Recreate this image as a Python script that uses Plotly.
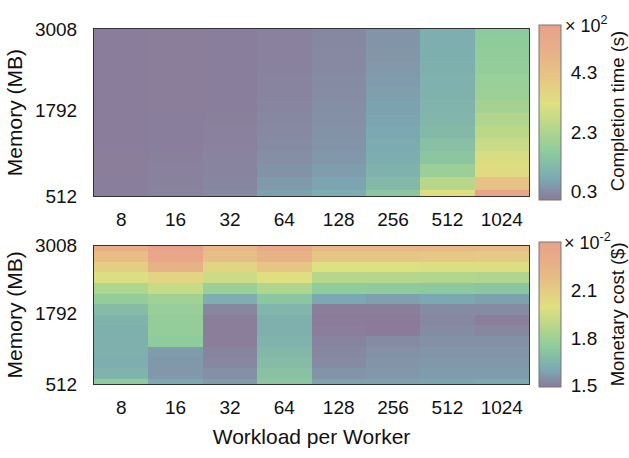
import plotly.graph_objects as go

workload = ["8", "16", "32", "64", "128", "256", "512", "1024"]
memory_mb = [512, 704, 896, 1088, 1280, 1472, 1664, 1856, 2048, 2240, 2432, 2624, 2816, 3008]

# Completion time (x 10^2 s); each list runs from 512 MB up to 3008 MB
time_8 = [0.08, 0.07, 0.06, 0.06, 0.05, 0.05, 0.05, 0.05, 0.05, 0.05, 0.05, 0.05, 0.05, 0.05]
time_16 = [0.14, 0.12, 0.1, 0.09, 0.08, 0.07, 0.07, 0.06, 0.06, 0.06, 0.06, 0.06, 0.06, 0.06]
time_32 = [0.22, 0.18, 0.15, 0.13, 0.11, 0.1, 0.09, 0.08, 0.08, 0.07, 0.07, 0.07, 0.07, 0.07]
time_64 = [0.6, 0.48, 0.38, 0.3, 0.25, 0.22, 0.2, 0.17, 0.15, 0.13, 0.12, 0.11, 0.1, 0.1]
time_128 = [0.78, 0.64, 0.52, 0.45, 0.4, 0.36, 0.33, 0.3, 0.27, 0.25, 0.23, 0.22, 0.21, 0.2]
time_256 = [1.45, 1.15, 0.95, 0.82, 0.75, 0.7, 0.65, 0.6, 0.55, 0.5, 0.46, 0.42, 0.4, 0.4]
time_512 = [3.2, 2.5, 1.9, 1.5, 1.3, 1.15, 1.05, 1.0, 0.95, 0.92, 0.9, 0.87, 0.85, 0.85]
time_1024 = [5.6, 4.2, 3.4, 3.1, 2.8, 2.55, 2.35, 2.1, 1.95, 1.85, 1.75, 1.7, 1.65, 1.6]

# Monetary cost (x 10^-2 $); each list runs from 512 MB up to 3008 MB
cost_8 = [1.74, 1.64, 1.62, 1.63, 1.63, 1.63, 1.64, 1.68, 1.76, 1.85, 1.98, 2.08, 2.18, 2.27]
cost_16 = [1.6, 1.56, 1.56, 1.57, 1.74, 1.76, 1.76, 1.77, 1.8, 1.92, 2.05, 2.25, 2.35, 2.38]
cost_32 = [1.57, 1.54, 1.52, 1.51, 1.5, 1.5, 1.5, 1.52, 1.62, 1.78, 1.93, 2.05, 2.17, 2.22]
cost_64 = [1.72, 1.7, 1.68, 1.66, 1.64, 1.63, 1.63, 1.65, 1.72, 1.85, 2.0, 2.12, 2.25, 2.32]
cost_128 = [1.58, 1.55, 1.53, 1.52, 1.51, 1.5, 1.49, 1.5, 1.6, 1.75, 1.87, 1.99, 2.12, 2.22]
cost_256 = [1.58, 1.56, 1.55, 1.54, 1.53, 1.49, 1.49, 1.5, 1.58, 1.74, 1.87, 1.99, 2.12, 2.22]
cost_512 = [1.59, 1.57, 1.56, 1.55, 1.54, 1.53, 1.52, 1.53, 1.6, 1.73, 1.86, 1.98, 2.11, 2.21]
cost_1024 = [1.6, 1.57, 1.56, 1.55, 1.54, 1.52, 1.5, 1.53, 1.58, 1.72, 1.85, 1.98, 2.1, 2.2]

time_ticks = [0.3, 2.3, 4.3]
cost_ticks = [1.5, 1.8, 2.1]
mem_ticks = [512, 1792, 3008]

time_cols = [time_8, time_16, time_32, time_64, time_128, time_256, time_512, time_1024]
cost_cols = [cost_8, cost_16, cost_32, cost_64, cost_128, cost_256, cost_512, cost_1024]
time_z = [list(r) for r in zip(*time_cols)]
cost_z = [list(r) for r in zip(*cost_cols)]

cscale = [[0.0, "#8b7a99"], [0.12, "#7ba9b3"], [0.28, "#8fcc9c"], [0.42, "#b7d78b"],
          [0.55, "#dfe080"], [0.7, "#e6c584"], [0.85, "#e8b087"], [1.0, "#e9a08a"]]

W, H = 629, 458
FONT = "Liberation Sans, Arial, Helvetica, sans-serif"
TXT = "#111"
x0, x1 = 94 / W, 529 / W
top_dom = [1 - 195 / H, 1 - 20 / H]
bot_dom = [1 - 392 / H, 1 - 247 / H]


def cbar(dom, length, ticks):
    return dict(x=539 / W, xanchor="left", y=sum(dom) / 2, yanchor="middle",
                lenmode="pixels", len=length, thickness=22, thicknessmode="pixels",
                outlinecolor="#777", outlinewidth=1, tickvals=ticks,
                ticktext=[f"{v:.1f}" for v in ticks],
                ticks="outside", ticklen=6, tickcolor="rgba(0,0,0,0)",
                tickfont=dict(size=19, color=TXT, family=FONT),
                xpad=0, ypad=0)


fig = go.Figure()
fig.add_trace(go.Heatmap(
    x=workload, y=memory_mb, z=time_z, colorscale=cscale, zmin=0.0, zmax=5.9,
    xaxis="x", yaxis="y", colorbar=cbar(top_dom, 175, time_ticks),
))
fig.add_trace(go.Heatmap(
    x=workload, y=memory_mb, z=cost_z, colorscale=cscale, zmin=1.49, zmax=2.40,
    xaxis="x2", yaxis="y2", colorbar=cbar(bot_dom, 145, cost_ticks),
))

axis_common = dict(showline=True, mirror=True, linecolor="#333", linewidth=1,
                   ticks="", showgrid=False, zeroline=False,
                   tickfont=dict(size=19, color=TXT, family=FONT))
yr = [512, 3008]
title_font = dict(size=21, family=FONT, color=TXT)
cb_title_font = dict(size=18.5, family=FONT, color=TXT)
fig.update_layout(
    width=W, height=H, margin=dict(l=0, r=0, t=0, b=0),
    paper_bgcolor="white", plot_bgcolor="white",
    font=dict(family=FONT, color=TXT),
    xaxis=dict(domain=[x0, x1], anchor="y", type="category", ticklabelstandoff=6, **axis_common),
    yaxis=dict(domain=top_dom, anchor="x", range=yr, tickvals=mem_ticks, ticklabelstandoff=12,
               title=dict(text="Memory (MB)", font=title_font, standoff=6),
               **axis_common),
    xaxis2=dict(domain=[x0, x1], anchor="y2", type="category", ticklabelstandoff=6,
                title=dict(text="Workload per Worker", font=title_font, standoff=12),
                **axis_common),
    yaxis2=dict(domain=bot_dom, anchor="x2", range=yr, tickvals=mem_ticks, ticklabelstandoff=12,
                title=dict(text="Memory (MB)", font=title_font, standoff=6),
                **axis_common),
    annotations=[
        dict(text="× 10<sup>2</sup>", x=563 / W, y=1 - 29 / H, xref="paper", yref="paper",
             xanchor="left", yanchor="bottom", showarrow=False,
             font=dict(size=18, family=FONT, color=TXT)),
        dict(text="× 10<sup>-2</sup>", x=562 / W, y=1 - 257 / H, xref="paper", yref="paper",
             xanchor="left", yanchor="bottom", showarrow=False,
             font=dict(size=18, family=FONT, color=TXT)),
        dict(text="Completion time (s)", x=617 / W, y=1 - 106 / H, xref="paper", yref="paper",
             xanchor="center", yanchor="middle", textangle=-90, showarrow=False,
             font=cb_title_font),
        dict(text="Monetary cost ($)", x=617 / W, y=1 - 319 / H, xref="paper", yref="paper",
             xanchor="center", yanchor="middle", textangle=-90, showarrow=False,
             font=cb_title_font),
    ],
)

fig.write_html("out.html")
